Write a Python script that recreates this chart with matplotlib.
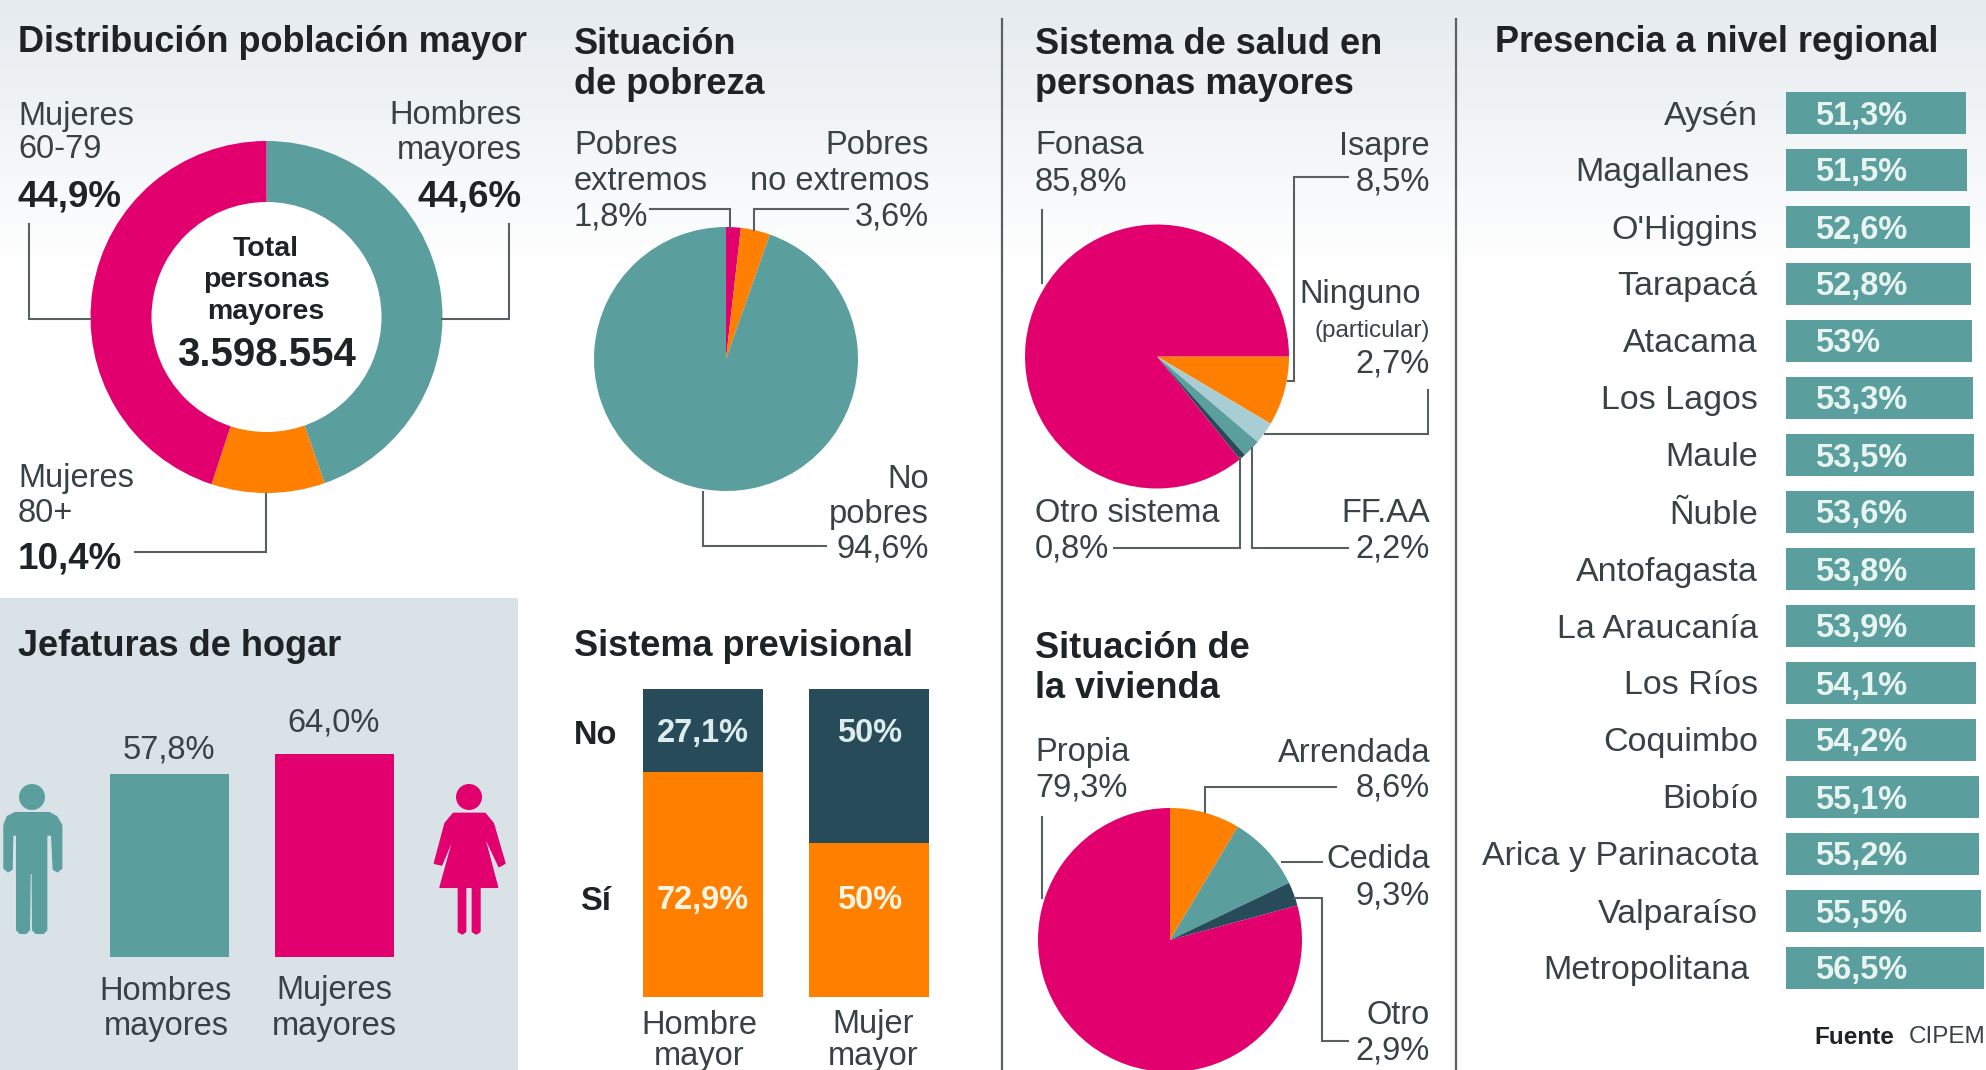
import numpy as np
import matplotlib
matplotlib.use('Agg')
import matplotlib.pyplot as plt
from matplotlib.patches import Circle, Rectangle, Polygon

# data
dist_vals = [44.6, 10.4, 44.9]
pobreza_vals = [1.8, 3.6, 94.6]
salud_vals = [8.5, 2.7, 2.2, 0.8, 85.8]
vivienda_vals = [8.6, 9.3, 2.9, 79.3]
jefaturas_vals = [57.8, 64.0]
prev_si = [72.9, 50]
prev_no = [27.1, 50]
prev_si_txt = ['72,9%', '50%']
prev_no_txt = ['27,1%', '50%']
regiones = ['Aysén', 'Magallanes', "O'Higgins", 'Tarapacá', 'Atacama', 'Los Lagos', 'Maule', 'Ñuble',
            'Antofagasta', 'La Araucanía', 'Los Ríos', 'Coquimbo', 'Biobío', 'Arica y Parinacota',
            'Valparaíso', 'Metropolitana']
region_vals = [51.3, 51.5, 52.6, 52.8, 53, 53.3, 53.5, 53.6, 53.8, 53.9, 54.1, 54.2, 55.1, 55.2, 55.5, 56.5]
region_txt = ['51,3%', '51,5%', '52,6%', '52,8%', '53%', '53,3%', '53,5%', '53,6%', '53,8%', '53,9%',
              '54,1%', '54,2%', '55,1%', '55,2%', '55,5%', '56,5%']

W, H = 1986, 1070
TEAL = '#5a9e9e'
PINK = '#e2006f'
ORANGE = '#ff8000'
DARK = '#274b59'
LIGHT = '#a8cdd2'
INK = '#3a4145'
BLACK = '#1f2326'
LINE = '#5a5f62'

plt.rcParams['font.family'] = ['Liberation Sans', 'DejaVu Sans']
FS = 23.5
FT = 26
FB = 26.5


def box(x0, y0, x1, y1):
    return [x0 / W, 1 - y1 / H, (x1 - x0) / W, (y1 - y0) / H]


fig = plt.figure(figsize=(W / 100, H / 100), dpi=100, facecolor='white')

# background axes in pixels
bg = fig.add_axes([0, 0, 1, 1], zorder=0)
grad = np.linspace(0, 1, 270).reshape(-1, 1)
bg.imshow(grad, extent=[0, W, 270, 0], cmap=matplotlib.colors.LinearSegmentedColormap.from_list('g', ['#e6ebef', '#ffffff']),
          aspect='auto', zorder=0)
bg.set_xlim(0, W)
bg.set_ylim(H, 0)
bg.axis('off')
bg.add_patch(Rectangle((0, 598), 518, 472, fc='#d8e2e7', ec='none', zorder=1))
for x in [1002, 1456]:
    bg.plot([x, x], [19, H], color=LINE, lw=1.6, zorder=2)


def pie_ax(cx, cy, r, vals, cols, start):
    ax = fig.add_axes(box(cx - r, cy - r, cx + r, cy + r), zorder=1)
    ax.pie(vals, colors=cols, startangle=start, counterclock=False, radius=1)
    ax.set_xlim(-1, 1)
    ax.set_ylim(-1, 1)
    ax.patch.set_alpha(0)
    return ax


ax = pie_ax(266.5, 317, 176, dist_vals, [TEAL, ORANGE, PINK], 90)
ax.add_patch(Circle((0, 0), 115 / 176, fc='white', ec='none', zorder=5))
pie_ax(726, 359, 132, pobreza_vals, [PINK, ORANGE, TEAL], 90)
pie_ax(1157, 356.5, 132, salud_vals, [ORANGE, LIGHT, TEAL, DARK, PINK], 0)
pie_ax(1170, 940, 132, vivienda_vals, [ORANGE, TEAL, DARK, PINK], 90)

# Jefaturas de hogar
ax = fig.add_axes(box(50.5, 754, 394, 957), zorder=1)
ax.patch.set_alpha(0)
ax.bar([0, 1], jefaturas_vals, width=0.72, color=[TEAL, PINK])
ax.set_xlim(-0.72, 1.36)
ax.set_ylim(0, 64)
ax.axis('off')

# Sistema previsional
ax = fig.add_axes(box(643, 689, 929, 997), zorder=1)
ax.patch.set_alpha(0)
ax.bar([0, 1], prev_si, width=0.718, color=ORANGE)
ax.bar([0, 1], prev_no, bottom=prev_si, width=0.718, color=DARK)
ax.set_xlim(-0.359, 1.359)
ax.set_ylim(0, 100)
ax.axis('off')
for i in range(2):
    ax.text(i, 31.3, prev_si_txt[i], color='#fff3e2', fontsize=FS, fontweight='bold', ha='center', va='center')
    ax.text(i, 85.4, prev_no_txt[i], color='#dcecec', fontsize=FS, fontweight='bold', ha='center', va='center')

# Presencia regional
ax = fig.add_axes(box(1786, 84.5, 1986, 996.5), zorder=1)
ax.patch.set_alpha(0)
rows = np.arange(len(regiones))
ax.barh(rows, region_vals, height=0.72, color=TEAL)
ax.set_xlim(0, 200 / 3.505)
ax.set_ylim(15.5, -0.5)
ax.axis('off')
for i in rows:
    off = -37 if regiones[i] in ('Magallanes', 'Metropolitana') else -28
    ax.annotate(regiones[i], (0, i), xytext=(off, -3), textcoords='offset pixels', ha='right', va='center',
                fontsize=24.5, color=INK, annotation_clip=False)
    ax.annotate(region_txt[i], (0, i), xytext=(29, -3), textcoords='offset pixels', ha='left', va='center',
                fontsize=FS, color='#e8f4f0', fontweight='bold', annotation_clip=False)

# overlay for titles, labels, leaders, icons
ov = fig.add_axes([0, 0, 1, 1], zorder=3)
ov.set_xlim(0, W)
ov.set_ylim(H, 0)
ov.axis('off')
ov.patch.set_alpha(0)


def T(x, y, s, ha='left', fs=FS, bold=False, c=INK):
    ov.text(x, y + 3, s, ha=ha, va='center', fontsize=fs, fontweight='bold' if bold else 'normal', color=c)


def title(x, y, s):
    T(x, y, s, fs=FT, bold=True, c=BLACK)


title(18, 39, 'Distribución población mayor')
title(574, 41, 'Situación')
title(574, 81, 'de pobreza')
title(1035, 41, 'Sistema de salud en')
title(1035, 81, 'personas mayores')
title(1495, 39, 'Presencia a nivel regional')
title(18, 644, 'Jefaturas de hogar')
title(574, 644, 'Sistema previsional')
title(1035, 645, 'Situación de')
title(1035, 685, 'la vivienda')

# donut labels
T(18, 113, 'Mujeres')
T(18, 147, '60-79')
T(18, 194, '44,9%', bold=True, fs=FB, c=BLACK)
T(522, 113, 'Hombres', ha='right')
T(522, 148, 'mayores', ha='right')
T(522, 194, '44,6%', ha='right', bold=True, fs=FB, c=BLACK)
T(18, 476, 'Mujeres')
T(18, 510, '80+')
T(18, 556, '10,4%', bold=True, fs=FB, c=BLACK)
T(266, 246, 'Total', ha='center', bold=True, fs=20.5, c=BLACK)
T(266, 277, 'personas', ha='center', bold=True, fs=20.5, c=BLACK)
T(266, 309, 'mayores', ha='center', bold=True, fs=20.5, c=BLACK)
T(266, 352, '3.598.554', ha='center', bold=True, fs=29, c=BLACK)

# pobreza labels
T(574, 143, 'Pobres')
T(574, 179, 'extremos')
T(574, 214, '1,8%')
T(929, 143, 'Pobres', ha='right')
T(929, 179, 'no extremos', ha='right')
T(929, 214, '3,6%', ha='right')
T(929, 476, 'No', ha='right')
T(929, 512, 'pobres', ha='right')
T(929, 546, '94,6%', ha='right')

# salud labels
T(1035, 143, 'Fonasa')
T(1035, 179, '85,8%')
T(1430, 143, 'Isapre', ha='right')
T(1430, 179, '8,5%', ha='right')
T(1421, 291, 'Ninguno', ha='right')
T(1430, 328, '(particular)', ha='right', fs=17.5)
T(1430, 361, '2,7%', ha='right')
T(1035, 510, 'Otro sistema')
T(1035, 546, '0,8%')
T(1430, 510, 'FF.AA', ha='right')
T(1430, 546, '2,2%', ha='right')

# vivienda labels
T(1035, 750, 'Propia')
T(1035, 785, '79,3%')
T(1430, 750, 'Arrendada', ha='right')
T(1430, 785, '8,6%', ha='right')
T(1430, 857, 'Cedida', ha='right')
T(1430, 893, '9,3%', ha='right')
T(1430, 1013, 'Otro', ha='right')
T(1430, 1048, '2,9%', ha='right')

# jefaturas labels
T(169, 747, '57,8%', ha='center')
T(334, 720, '64,0%', ha='center')
T(166, 988, 'Hombres', ha='center')
T(166, 1023, 'mayores', ha='center')
T(334, 988, 'Mujeres', ha='center')
T(334, 1023, 'mayores', ha='center')

# previsional labels
T(574, 732, 'No', bold=True, c=BLACK)
T(580, 898, 'Sí', bold=True, c=BLACK)
T(699, 1022, 'Hombre', ha='center')
T(699, 1053, 'mayor', ha='center')
T(873, 1022, 'Mujer', ha='center')
T(873, 1053, 'mayor', ha='center')

T(1986, 1034, 'CIPEM', ha='right', fs=17.5)
T(1894, 1034, 'Fuente', ha='right', fs=17.5, bold=True, c=BLACK)

leaders = [
    [(29, 224), (29, 319), (91, 319)],
    [(509, 224), (509, 319), (442, 319)],
    [(266, 494), (266, 552), (135, 552)],
    [(650, 209), (730, 209), (730, 228)],
    [(848, 209), (754, 209), (754, 230)],
    [(703, 492), (703, 546), (826, 546)],
    [(1042, 210), (1042, 283)],
    [(1348, 177), (1294, 177), (1294, 381), (1288, 381)],
    [(1428, 390), (1428, 434), (1265, 434)],
    [(1348, 548), (1252, 548), (1252, 448)],
    [(1114, 548), (1240, 548), (1240, 457)],
    [(1042, 817), (1042, 898)],
    [(1336, 787), (1205, 787), (1205, 812)],
    [(1322, 862), (1282, 862)],
    [(1294, 898), (1322, 898), (1322, 1041), (1348, 1041)],
]
for pts in leaders:
    xs, ys = zip(*pts)
    ov.plot(xs, ys, color=LINE, lw=1.5, solid_joinstyle='miter')


def shape(pts, x0, y0, col):
    xy = [(x0 + a / 3, y0 + b / 3) for a, b in pts]
    ov.add_patch(Polygon(xy, fc=col, ec=col, lw=1, joinstyle='round'))


# hombre
ov.add_patch(Circle((32, 797), 13, fc=TEAL, ec='none'))
shape([(12, 165), (22, 140), (45, 128), (148, 128), (170, 140), (185, 165), (185, 295), (172, 305), (160, 298),
       (155, 195), (140, 195), (140, 480), (130, 490), (108, 490), (98, 480), (97, 310), (90, 310), (88, 480),
       (78, 490), (60, 490), (50, 480), (50, 195), (38, 195), (36, 298), (24, 305), (12, 295)], 0, 770, TEAL)

# mujer
ov.add_patch(Circle((469, 797), 13, fc=PINK, ec='none'))
shape([(85, 130), (180, 130), (205, 160), (240, 280), (222, 290), (175, 190), (218, 352), (45, 352), (90, 190),
       (50, 285), (28, 280), (60, 160)], 425, 770, PINK)
shape([(100, 350), (122, 350), (122, 485), (112, 492), (100, 485)], 425, 770, PINK)
shape([(142, 350), (165, 350), (165, 485), (154, 492), (142, 485)], 425, 770, PINK)

fig.savefig('out.png', dpi=100, facecolor='white')
